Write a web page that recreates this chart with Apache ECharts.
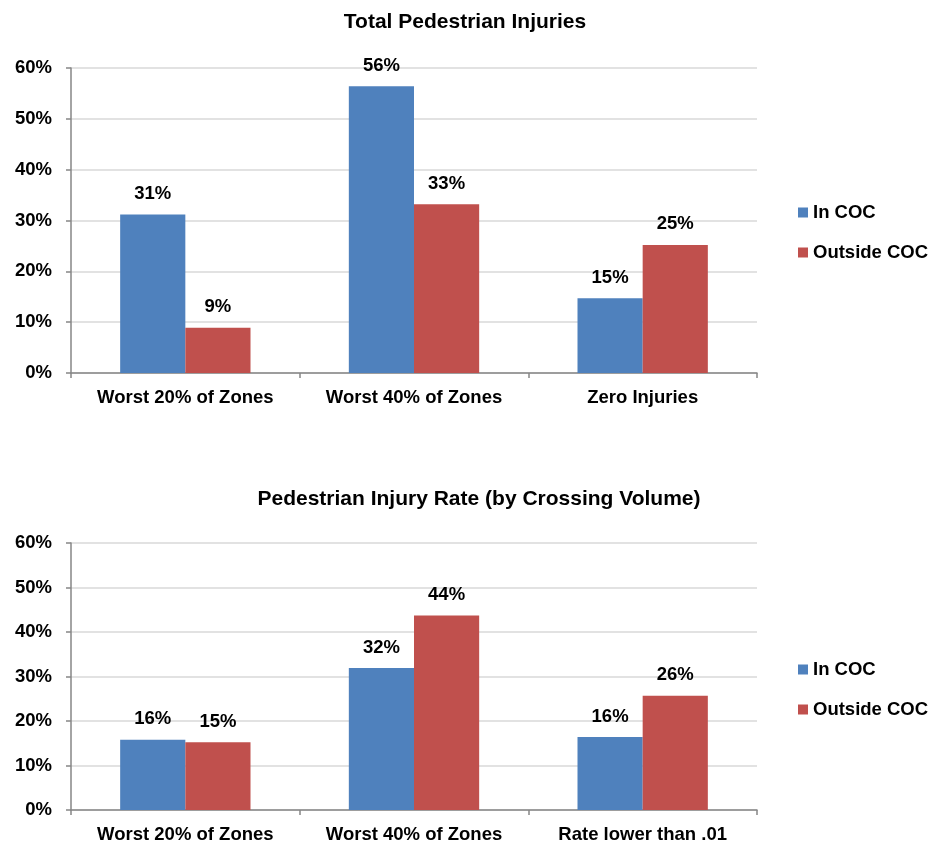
<!DOCTYPE html>
<html>
<head>
<meta charset="utf-8">
<script src="https://cdn.jsdelivr.net/npm/echarts@6/dist/echarts.min.js"></script>
<style>
  html, body { margin: 0; padding: 0; background: #fff; }
  #chart { width: 928px; height: 848px; }
</style>
</head>
<body>
<div id="chart"></div>
<script>
// data
var seriesNames = ['In COC', 'Outside COC'];
var totalCats = ['Worst 20% of Zones', 'Worst 40% of Zones', 'Zero Injuries'];
var totalIn = [31.2, 56.4, 14.7];
var totalOut = [8.9, 33.2, 25.2];
var rateCats = ['Worst 20% of Zones', 'Worst 40% of Zones', 'Rate lower than .01'];
var rateIn = [15.8, 31.9, 16.4];
var rateOut = [15.2, 43.7, 25.7];
var yTicks = [0, 10, 20, 30, 40, 50, 60];

var blue = '#4F81BD', red = '#C0504D';
var font = '"Liberation Sans", Arial, sans-serif';
var fs = 18.5;

var chart = echarts.init(document.getElementById('chart'));

function xAx(idx, cats) {
  return {
    type: 'category',
    gridIndex: idx,
    data: cats,
    axisLine: { lineStyle: { color: '#868686', width: 1.5 } },
    axisTick: { show: true, length: 5, lineStyle: { color: '#868686', width: 1.5 } },
    axisLabel: { interval: 0, color: '#000', fontSize: fs, fontWeight: 'bold', fontFamily: font, margin: 15 }
  };
}
function yAx(idx) {
  return {
    type: 'value',
    gridIndex: idx,
    min: yTicks[0],
    max: yTicks[yTicks.length - 1],
    interval: 10,
    axisLine: { show: true, lineStyle: { color: '#868686', width: 1.5 } },
    axisTick: { show: true, length: 5, lineStyle: { color: '#868686', width: 1.5 } },
    splitLine: { lineStyle: { color: '#d9d9d9', width: 1.5 } },
    axisLabel: { color: '#000', fontSize: fs, fontWeight: 'bold', fontFamily: font, margin: 19,
      formatter: '{value}%' }
  };
}
function bar(name, idx, data, color) {
  return {
    name: name,
    type: 'bar',
    xAxisIndex: idx,
    yAxisIndex: idx,
    data: data,
    barGap: '0%',
    barCategoryGap: '43%',
    itemStyle: { color: color },
    label: {
      show: true,
      position: 'top',
      distance: 11,
      color: '#000',
      fontSize: fs,
      fontWeight: 'bold',
      fontFamily: font,
      formatter: function (p) { return Math.round(p.value) + '%'; }
    }
  };
}
function legend(top) {
  return {
    data: seriesNames,
    orient: 'vertical',
    left: 798,
    top: top,
    padding: 0,
    icon: 'rect',
    itemWidth: 10,
    itemHeight: 10,
    itemGap: 21,
    itemStyle: { borderWidth: 0 },
    selectedMode: false,
    textStyle: { color: '#000', fontSize: fs, fontWeight: 'bold', fontFamily: font }
  };
}

var option = {
  backgroundColor: '#fff',
  animation: false,
  title: [
    { text: 'Total Pedestrian Injuries', left: 460, top: 7, textAlign: 'center',
      textStyle: { fontSize: 21, fontWeight: 'bold', fontFamily: font, color: '#000' } },
    { text: 'Pedestrian Injury Rate (by Crossing Volume)', left: 474, top: 484, textAlign: 'center',
      textStyle: { fontSize: 21, fontWeight: 'bold', fontFamily: font, color: '#000' } }
  ],
  legend: [legend(203), legend(660)],
  grid: [
    { left: 71, right: 171, top: 68, height: 305 },
    { left: 71, right: 171, top: 543, height: 267 }
  ],
  xAxis: [xAx(0, totalCats), xAx(1, rateCats)],
  yAxis: [yAx(0), yAx(1)],
  series: [
    bar(seriesNames[0], 0, totalIn, blue),
    bar(seriesNames[1], 0, totalOut, red),
    bar(seriesNames[0], 1, rateIn, blue),
    bar(seriesNames[1], 1, rateOut, red)
  ]
};
chart.setOption(option);
</script>
</body>
</html>
